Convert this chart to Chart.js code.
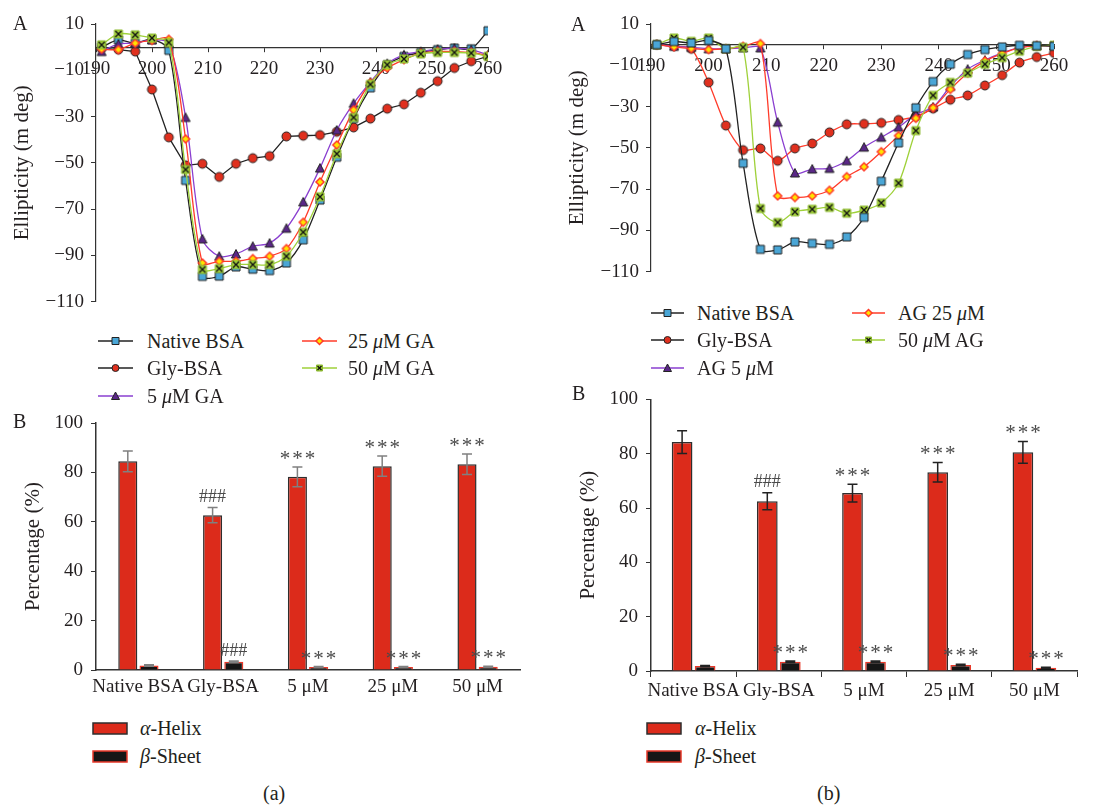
<!DOCTYPE html>
<html>
<head>
<meta charset="utf-8">
<script src="https://cdn.jsdelivr.net/npm/chart.js@4.4.1/dist/chart.umd.min.js"></script>
<style>
  body { margin: 0; background: #fff; }
  #wrap { position: relative; width: 1094px; height: 805px; font-family: "Liberation Serif", "DejaVu Serif", serif; color: #231f20; }
  #wrap > canvas, .lbl, .leg { position: absolute; }
  .lbl { font-size: 20px; line-height: 20px; }
  .leg { display: flex; align-items: center; height: 28px; font-size: 20px; white-space: nowrap; }
  .leg canvas { display: block; }
</style>
</head>
<body>
<div id="wrap">
  <canvas id="lineA" width="540" height="320" style="left:0;top:0"></canvas>
  <canvas id="lineB" width="539" height="290" style="left:555px;top:0"></canvas>
  <canvas id="barA" width="540" height="310" style="left:0;top:400px"></canvas>
  <canvas id="barB" width="539" height="330" style="left:555px;top:380px"></canvas>
  <div class="lbl" style="left:13px;top:13px">A</div>
  <div class="lbl" style="left:571px;top:14px">A</div>
  <div class="lbl" style="left:13px;top:411px">B</div>
  <div class="lbl" style="left:572px;top:383px">B</div>
  <div class="lbl" style="left:263px;top:783px">(a)</div>
  <div class="lbl" style="left:817px;top:783px">(b)</div>
</div>
<script>
// wavelength (nm) of each CD reading
const wavelengths = [191, 194, 197, 200, 203, 206, 209, 212, 215, 218, 221, 224, 227, 230, 233, 236, 239, 242, 245, 248, 251, 254, 257, 260];
const xTicksLine = [190, 200, 210, 220, 230, 240, 250, 260];
const yTicksLine = [10, -10, -30, -50, -70, -90, -110];

// panel (a) A: GA series
const nativeA = [0, 3.1, 1.7, 3.4, -1.4, -57.6, -99.1, -99.0, -95.0, -96.0, -96.6, -93.3, -83.3, -66.1, -47.6, -30.9, -17.6, -7.6, -4.0, -2.3, -1.1, -0.4, -0.7, 7.1];
const glyA = [-0.4, -1.1, -1.9, -18.3, -39.0, -51.1, -50.4, -56.1, -50.4, -48.0, -47.1, -38.6, -38.3, -38.0, -36.6, -34.7, -30.9, -26.6, -24.7, -19.7, -14.7, -9.0, -6.1, -4.0];
const ga5 = [-1.9, 1.4, 1.7, 3.1, 1.7, -30.4, -82.9, -90.4, -89.4, -86.1, -84.7, -78.3, -66.9, -52.3, -35.9, -24.3, -15.1, -7.1, -3.3, -1.9, -0.9, -0.4, -1.1, -3.3];
const ga25 = [-0.9, -1.1, 1.7, 2.9, 3.4, -39.7, -93.3, -92.6, -92.6, -91.4, -90.4, -87.1, -75.7, -58.3, -42.3, -27.1, -15.4, -9.0, -5.4, -2.6, -1.9, -1.9, -2.3, -3.7];
const ga50 = [1.0, 5.7, 5.3, 3.9, 2.0, -52.9, -96.1, -95.7, -94.0, -94.0, -94.0, -90.4, -80.0, -64.7, -46.1, -30.4, -16.1, -7.6, -5.1, -2.9, -2.3, -2.3, -2.6, -4.0];

// panel (b) A: AG series
const nativeB = [0, 1.5, 0.8, 2.0, -2.0, -57.5, -99.2, -99.5, -95.6, -96.3, -96.8, -93.2, -83.7, -66.2, -47.6, -30.6, -17.9, -9.5, -4.8, -2.4, -1.1, -0.3, -0.5, -0.8];
const glyB = [0, -0.8, -2.0, -18.3, -39.2, -51.1, -50.3, -56.3, -50.3, -47.9, -42.5, -38.6, -38.4, -37.9, -36.5, -34.9, -31.0, -26.7, -24.6, -19.8, -14.8, -8.7, -6.0, -4.0];
const ag5 = [0, -0.8, -1.3, -2.0, -2.0, -1.6, -1.6, -37.6, -62.2, -60.3, -60.0, -56.3, -49.7, -44.9, -40.0, -33.8, -30.2, -20.2, -11.9, -7.5, -4.0, -1.3, -0.5, -0.5];
const ag25 = [0, -1.1, -1.9, -2.4, -2.0, -0.8, 0.5, -73.3, -74.1, -73.3, -70.6, -64.0, -59.2, -51.9, -44.1, -35.7, -30.6, -21.7, -13.8, -7.9, -4.3, -1.6, -0.5, -0.5];
const ag50 = [0, 3.2, 1.6, 3.2, -2.0, -1.3, -79.4, -86.2, -81.0, -79.8, -78.9, -81.7, -80.2, -76.7, -67.1, -41.7, -24.6, -18.3, -13.8, -9.5, -6.3, -3.2, -0.8, -0.3];

const namesA = ['Native BSA', 'Gly-BSA', '5 μM GA', '25 μM GA', '50 μM GA'];
const namesB = ['Native BSA', 'Gly-BSA', 'AG 5 μM', 'AG 25 μM', '50 μM AG'];

// secondary structure bars
const barCats = ['Native BSA', 'Gly-BSA', '5 μM', '25 μM', '50 μM'];
const yTicksBar = [0, 20, 40, 60, 80, 100];
const helixA = [84.5, 62.7, 78.2, 82.5, 83.3];
const helixErrA = [4.2, 3.1, 4.0, 4.1, 4.2];
const sheetA = [1.8, 3.3, 1.2, 1.2, 1.3];
const sheetErrA = [0.3, 0.3, 0.2, 0.2, 0.2];
const helixB = [84.3, 62.5, 65.5, 73.2, 80.5];
const helixErrB = [4.2, 3.1, 3.3, 3.6, 4.0];
const sheetB = [1.8, 3.4, 3.4, 2.2, 1.2];
const sheetErrB = [0.2, 0.3, 0.3, 0.3, 0.2];
const marksHelixA = ['', '###', '***', '***', '***'];
const marksSheetA = ['', '###', '***', '***', '***'];
const marksHelixB = ['', '###', '***', '***', '***'];
const marksSheetB = ['', '***', '***', '***', '***'];

const ink = '#231f20';
const blue = '#4aa6d6', red = '#e0301e', purple = '#5a2787', purpleLine = '#8a3fd0';
const yellow = '#ffe400', redLine = '#ff3b2a', green = '#a6d33c', greenLine = '#9fd13a';
const barRed = '#dc2b1b';

Chart.defaults.font.family = '"Liberation Serif", "DejaVu Serif", serif';
Chart.defaults.color = ink;

function drawMarker(g, kind, cx, cy, s) {
  g.lineWidth = 1;
  g.strokeStyle = '#222';
  g.beginPath();
  if (kind === 'square') {
    g.rect(cx - s / 2, cy - s / 2, s, s); g.fillStyle = blue;
  } else if (kind === 'circle') {
    g.arc(cx, cy, s / 2, 0, Math.PI * 2); g.fillStyle = red;
  } else if (kind === 'triangle') {
    g.moveTo(cx, cy - s / 2 - 0.5); g.lineTo(cx + s / 2 + 0.5, cy + s / 2); g.lineTo(cx - s / 2 - 0.5, cy + s / 2); g.closePath();
    g.fillStyle = purple;
  } else if (kind === 'diamond') {
    g.moveTo(cx, cy - s / 2); g.lineTo(cx + s / 2, cy); g.lineTo(cx, cy + s / 2); g.lineTo(cx - s / 2, cy); g.closePath();
    g.fillStyle = yellow; g.strokeStyle = redLine; g.lineWidth = 1.5;
  } else {
    g.rect(cx - s / 2, cy - s / 2, s, s); g.fillStyle = green; g.strokeStyle = '#8ab82c';
  }
  g.fill();
  g.stroke();
  if (kind === 'cross') {
    const d = s / 2 - 1;
    g.beginPath();
    g.strokeStyle = '#111'; g.lineWidth = 1.4;
    g.moveTo(cx - d, cy - d); g.lineTo(cx + d, cy + d);
    g.moveTo(cx + d, cy - d); g.lineTo(cx - d, cy + d);
    g.stroke();
  }
}

function markerImage(kind, s) {
  const c = document.createElement('canvas');
  c.width = c.height = s + 4;
  drawMarker(c.getContext('2d'), kind, (s + 4) / 2, (s + 4) / 2, s);
  return c;
}

const kinds = ['square', 'circle', 'triangle', 'diamond', 'cross'];
const legendLines = ['#222', '#222', purpleLine, redLine, greenLine];

function lineSet(label, values, kind, color, tension, order) {
  return {
    label: label,
    data: wavelengths.map((w, i) => ({ x: w, y: values[i] })),
    borderColor: color,
    borderWidth: 1.3,
    tension: tension,
    order: order,
    pointStyle: markerImage(kind, kind === 'circle' ? 9 : 8),
    pointRadius: 4,
    pointHoverRadius: 4
  };
}

function lineOptions(padBottom, padRight) {
  return {
    responsive: false,
    animation: false,
    layout: { padding: { top: 24, bottom: padBottom, right: padRight, left: 0 } },
    plugins: { legend: { display: false }, tooltip: { enabled: false } },
    scales: {
      x: {
        type: 'linear', min: 190, max: 260, position: { y: 0 },
        afterBuildTicks: s => { s.ticks = xTicksLine.map(v => ({ value: v })); },
        ticks: { font: { size: 19 }, color: ink, padding: 6, maxRotation: 0, autoSkip: false },
        grid: { drawOnChartArea: false, tickLength: 4, color: '#333' },
        border: { color: '#333', width: 1.2 }
      },
      y: {
        min: -110, max: 10,
        afterBuildTicks: s => { s.ticks = yTicksLine.map(v => ({ value: v })); },
        afterFit: s => { s.width = 96; },
        ticks: { font: { size: 19 }, color: ink, padding: 7, callback: v => v < 0 ? '\u2212' + Math.abs(v) : String(v) },
        grid: { drawOnChartArea: false, tickLength: 5, color: '#333' },
        border: { color: '#333', width: 1.2 },
        title: { display: true, text: 'Ellipticity (m deg)', font: { size: 21 }, color: ink, padding: { top: 10, bottom: 0 } }
      }
    }
  };
}

new Chart(document.getElementById('lineA'), {
  type: 'line',
  data: {
    datasets: [
      lineSet(namesA[0], nativeA, 'square', '#222', 0.3, 3),
      lineSet(namesA[1], glyA, 'circle', '#222', 0, 4),
      lineSet(namesA[2], ga5, 'triangle', purpleLine, 0.3, 2),
      lineSet(namesA[3], ga25, 'diamond', redLine, 0.3, 1),
      lineSet(namesA[4], ga50, 'cross', greenLine, 0.3, 0)
    ]
  },
  options: lineOptions(16, 52)
});

new Chart(document.getElementById('lineB'), {
  type: 'line',
  data: {
    datasets: [
      lineSet(namesB[0], nativeB, 'square', '#222', 0.3, 0),
      lineSet(namesB[1], glyB, 'circle', redLine, 0.25, 4),
      lineSet(namesB[2], ag5, 'triangle', purpleLine, 0.3, 3),
      lineSet(namesB[3], ag25, 'diamond', redLine, 0.3, 2),
      lineSet(namesB[4], ag50, 'cross', greenLine, 0.3, 1)
    ]
  },
  options: lineOptions(14, 40)
});

// error bars and significance marks on top of the bars
const errBars = {
  id: 'errBars',
  afterDatasetsDraw(chart, args, opts) {
    const ctx = chart.ctx, ys = chart.scales.y;
    chart.data.datasets.forEach((ds, di) => {
      chart.getDatasetMeta(di).data.forEach((bar, i) => {
        const v = ds.data[i], e = ds.errors[i];
        const top = ys.getPixelForValue(v + e), bot = ys.getPixelForValue(v - e);
        ctx.save();
        ctx.strokeStyle = opts.color;
        ctx.lineWidth = 1.5;
        ctx.beginPath();
        ctx.moveTo(bar.x, top); ctx.lineTo(bar.x, bot);
        ctx.moveTo(bar.x - 5, top); ctx.lineTo(bar.x + 5, top);
        ctx.moveTo(bar.x - 5, bot); ctx.lineTo(bar.x + 5, bot);
        ctx.stroke();
        const mark = ds.marks[i];
        if (mark) {
          const star = mark[0] === '*';
          ctx.font = (star ? 21 : 18) + 'px "Liberation Serif", serif';
          ctx.letterSpacing = star ? '2px' : '0px';
          ctx.fillStyle = opts.markColor;
          ctx.textAlign = 'center';
          ctx.textBaseline = 'alphabetic';
          const m = ctx.measureText(mark);
          const cy = top - 12;
          ctx.fillText(mark, bar.x + (star ? 1 : 0), cy + (m.actualBoundingBoxAscent - m.actualBoundingBoxDescent) / 2);
        }
        ctx.restore();
      });
    });
  }
};

function barChart(id, helix, helixErr, sheet, sheetErr, mH, mS, cfg) {
  return new Chart(document.getElementById(id), {
    type: 'bar',
    data: {
      labels: barCats,
      datasets: [
        { label: 'α-Helix', data: helix, errors: helixErr, marks: mH, backgroundColor: barRed, borderColor: '#2e2e2e', borderWidth: 1.5, categoryPercentage: cfg.catPct, barPercentage: 0.9 },
        { label: 'β-Sheet', data: sheet, errors: sheetErr, marks: mS, backgroundColor: '#161616', borderColor: '#e8392a', borderWidth: 1.5, categoryPercentage: cfg.catPct, barPercentage: 0.9 }
      ]
    },
    options: {
      responsive: false,
      animation: false,
      layout: { padding: { top: cfg.padTop, right: cfg.padRight, bottom: 0, left: 0 } },
      plugins: {
        legend: { display: false }, tooltip: { enabled: false },
        errBars: { color: cfg.errColor, markColor: '#4a4a4a' }
      },
      scales: {
        x: {
          afterFit: s => { s.height = cfg.xHeight; },
          ticks: { font: { size: 19 }, color: ink, padding: cfg.labelPad, autoSkip: false, maxRotation: 0 },
          grid: { drawOnChartArea: false, drawTicks: cfg.tickLen > 0, tickLength: cfg.tickLen, color: '#333', offset: true },
          border: { color: '#333', width: 1.5 }
        },
        y: {
          min: 0, max: 100,
          afterBuildTicks: s => { s.ticks = yTicksBar.map(v => ({ value: v })); },
          afterFit: s => { s.width = 96; },
          ticks: { font: { size: 19 }, color: ink, padding: 8 },
          grid: { drawOnChartArea: false, tickLength: 5, color: '#333' },
          border: { color: '#333', width: 1.5 },
          title: { display: true, text: 'Percentage (%)', font: { size: 21 }, color: ink, padding: { top: 21, bottom: 0 } }
        }
      }
    },
    plugins: [errBars]
  });
}

barChart('barA', helixA, helixErrA, sheetA, sheetErrA, marksHelixA, marksSheetA,
  { catPct: 0.5, padTop: 23, padRight: 20, xHeight: 40, errColor: '#808080', tickLen: 0, labelPad: 6 });
barChart('barB', helixB, helixErrB, sheetB, sheetErrB, marksHelixB, marksSheetB,
  { catPct: 0.54, padTop: 15, padRight: 17, xHeight: 39, errColor: '#222', tickLen: 6, labelPad: 3 });

// legends
const wrap = document.getElementById('wrap');
function legendItem(x, yc, iconW, gap, drawIcon, text) {
  const d = document.createElement('div');
  d.className = 'leg';
  d.style.left = x + 'px';
  d.style.top = (yc - 14) + 'px';
  const c = document.createElement('canvas');
  c.width = iconW; c.height = 14;
  c.style.marginRight = gap + 'px';
  drawIcon(c.getContext('2d'), iconW);
  d.appendChild(c);
  const s = document.createElement('span');
  s.innerHTML = text.replace('μ', '<i>μ</i>').replace('α', '<i>α</i>').replace('β', '<i>β</i>');
  d.appendChild(s);
  wrap.appendChild(d);
}

function lineIcon(k) {
  return (g, w) => {
    g.strokeStyle = legendLines[k];
    g.lineWidth = 1.4;
    g.beginPath(); g.moveTo(0, 7); g.lineTo(w, 7); g.stroke();
    drawMarker(g, kinds[k], w / 2, 7, kinds[k] === 'cross' ? 6 : 7);
  };
}

function boxIcon(fill, stroke) {
  return (g, w) => {
    g.fillStyle = fill; g.fillRect(1, 2, w - 2, 11);
    g.strokeStyle = stroke; g.lineWidth = 1.5; g.strokeRect(1, 2, w - 2, 11);
  };
}

const legRowsA = [341, 368, 396], legColsA = [98, 302];
const legRowsB = [313, 340, 368], legColsB = [651, 852];
namesA.forEach((n, k) => {
  const col = k < 3 ? 0 : 1, row = k < 3 ? k : k - 3;
  legendItem(legColsA[col], legRowsA[row], 35, col === 0 ? 14 : 11, lineIcon(k), n);
});
namesB.forEach((n, k) => {
  const col = k < 3 ? 0 : 1, row = k < 3 ? k : k - 3;
  legendItem(legColsB[col], legRowsB[row], 33, 13, lineIcon(k), n);
});

legendItem(92, 728, 36, 12, boxIcon(barRed, '#2e2e2e'), 'α-Helix');
legendItem(92, 756, 36, 12, boxIcon('#161616', '#e8392a'), 'β-Sheet');
legendItem(646, 728, 36, 13, boxIcon(barRed, '#2e2e2e'), 'α-Helix');
legendItem(646, 756, 36, 13, boxIcon('#161616', '#e8392a'), 'β-Sheet');
</script>
</body>
</html>
